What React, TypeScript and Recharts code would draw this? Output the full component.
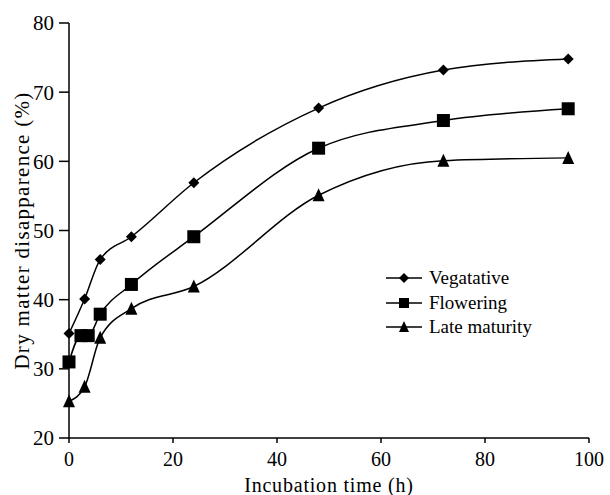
import { LineChart, Line, XAxis, YAxis } from "recharts";

const vegHours = [0, 3, 6, 12, 24, 48, 72, 96];
const vegValues = [35.1, 40.1, 45.8, 49.1, 56.9, 67.7, 73.2, 74.8];
const flowHours = [0, 2.3, 3.7, 6, 12, 24, 48, 72, 96];
const flowValues = [31.0, 34.8, 34.8, 37.9, 42.2, 49.1, 61.9, 65.9, 67.6];
const lateHours = [0, 3, 6, 12, 24, 48, 72, 96];
const lateValues = [25.3, 27.4, 34.5, 38.7, 41.9, 55.1, 60.1, 60.5];
const xTicks = [0, 20, 40, 60, 80, 100];
const yTicks = [20, 30, 40, 50, 60, 70, 80];

const toRows = (xs: number[], ys: number[]) => xs.map((x, i) => ({ x, y: ys[i] }));

const FONT = "Liberation Serif";

function Diamond({ cx, cy, s = 5.5 }: any) {
  return <polygon points={`${cx},${cy - s} ${cx + s},${cy} ${cx},${cy + s} ${cx - s},${cy}`} fill="#000" />;
}
function Square({ cx, cy, s = 6.5 }: any) {
  return <rect x={cx - s} y={cy - s} width={s * 2} height={s * 2} fill="#000" />;
}
function Triangle({ cx, cy, s = 6 }: any) {
  return <polygon points={`${cx},${cy - s - 1} ${cx + s},${cy + s} ${cx - s},${cy + s}`} fill="#000" />;
}

const series = [
  { name: "Vegatative", data: toRows(vegHours, vegValues), Shape: Diamond },
  { name: "Flowering", data: toRows(flowHours, flowValues), Shape: Square },
  { name: "Late maturity", data: toRows(lateHours, lateValues), Shape: Triangle },
];

function LegendBox() {
  return (
    <div style={{ position: "absolute", left: 385, top: 266, fontFamily: FONT, fontSize: 19, color: "#000" }}>
      {series.map(({ name, Shape }) => (
        <div key={name} style={{ display: "flex", alignItems: "center", height: 24.5 }}>
          <svg width={40} height={20}>
            <line x1={1} y1={10} x2={37} y2={10} stroke="#000" strokeWidth={1.5} />
            <Shape cx={19} cy={10} s={5} />
          </svg>
          <span style={{ marginLeft: 4 }}>{name}</span>
        </div>
      ))}
    </div>
  );
}

export default function App() {
  return (
    <div style={{ position: "absolute", left: 0, top: 0, width: 610, height: 495, background: "#fff", fontFamily: FONT }}>
      <LineChart width={610} height={495} margin={{ top: 23, right: 21, bottom: 0, left: 0 }} style={{ fontFamily: FONT }}>
        <XAxis
          type="number"
          dataKey="x"
          domain={[0, 100]}
          ticks={xTicks}
          allowDuplicatedCategory={false}
          height={57}
          stroke="#000"
          strokeWidth={1.5}
          tickSize={5}
          tickMargin={9}
          tick={{ fill: "#000", fontSize: 20, fontFamily: FONT }}
          label={{ value: "Incubation time (h)", position: "insideBottom", offset: 3, fill: "#000", fontSize: 20, fontFamily: FONT, style: { letterSpacing: 0.8 } }}
        />
        <YAxis
          type="number"
          domain={[20, 80]}
          ticks={yTicks}
          width={69}
          stroke="#000"
          strokeWidth={1.5}
          tickSize={10}
          tickMargin={5}
          tick={{ fill: "#000", fontSize: 21, fontFamily: FONT }}
          label={{ value: "Dry matter disapparence (%)", angle: -90, position: "insideLeft", offset: 22, style: { textAnchor: "middle", letterSpacing: 1.3 }, fill: "#000", fontSize: 21, fontFamily: FONT }}
        />
        {series.map(({ name, data, Shape }) => (
          <Line
            key={name}
            name={name}
            data={data}
            dataKey="y"
            type="monotone"
            stroke="#000"
            strokeWidth={1.5}
            isAnimationActive={false}
            dot={(p: any) => <Shape key={`${name}-${p.index}`} cx={p.cx} cy={p.cy} />}
            activeDot={false}
          />
        ))}
      </LineChart>
      <LegendBox />
    </div>
  );
}
